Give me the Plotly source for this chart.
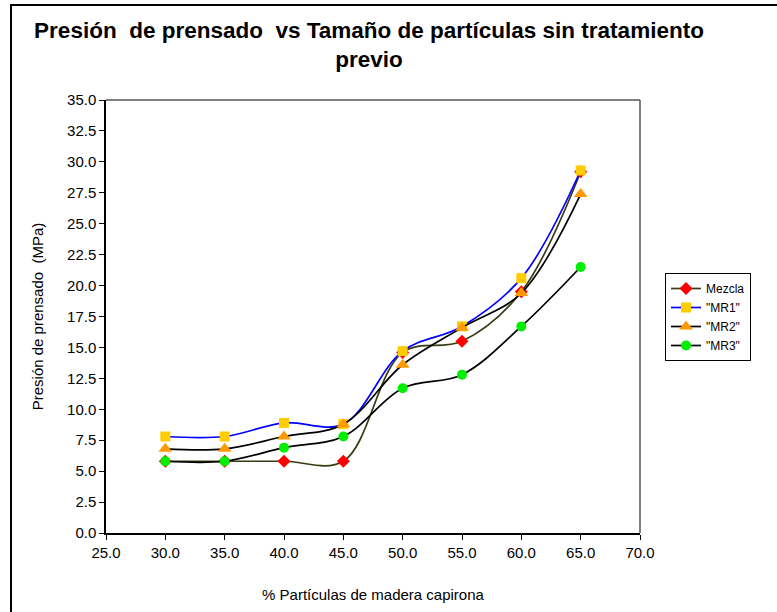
import plotly.graph_objects as go

# Percentage of capirona wood particles
particulas = [30, 35, 40, 45, 50, 55, 60, 65]

# Pressing pressure (MPa) for each mixture
mezcla = [5.8, 5.8, 5.8, 5.8, 14.6, 15.5, 19.5, 29.2]
mr1 = [7.8, 7.8, 8.9, 8.8, 14.7, 16.7, 20.6, 29.3]
mr2 = [6.8, 6.8, 7.8, 8.8, 13.6, 16.6, 19.4, 27.4]
mr3 = [5.8, 5.8, 6.9, 7.8, 11.7, 12.8, 16.7, 21.5]

x_ticks = [25, 30, 35, 40, 45, 50, 55, 60, 65, 70]
y_ticks = [0, 2.5, 5, 7.5, 10, 12.5, 15, 17.5, 20, 22.5, 25, 27.5, 30, 32.5, 35]

FONT = "Liberation Sans, Arial, sans-serif"
NB = "\u00a0"

series = [
    ("Mezcla", mezcla, "#3a3a14", "diamond", "#ff0000", 10),
    ('"MR1"', mr1, "#0000ff", "square", "#ffcc00", 10),
    ('"MR2"', mr2, "#000000", "triangle-up", "#ff9900", 12),
    ('"MR3"', mr3, "#000000", "circle", "#00ee00", 10),
]

fig = go.Figure()
for name, vals, lc, sym, mc, ms in series:
    fig.add_trace(go.Scatter(
        x=particulas, y=vals, name=name, mode="lines+markers",
        line=dict(color=lc, width=1.7, shape="spline", smoothing=1.0),
        marker=dict(symbol=sym, color=mc, size=ms, line=dict(width=0)),
    ))

L, R, T, B = 106, 137, 100, 79
W, H = 777, 612
pw, ph = W - L - R, H - T - B

def px_x(p):
    return (p - L) / pw

def px_y(p):
    return (H - B - p) / ph

title_text = (f"Presión{NB} de prensado{NB} vs Tamaño de partículas sin tratamiento"
              "<br>previo")

fig.update_layout(
    width=W, height=H,
    margin=dict(l=L, r=R, t=T, b=B),
    paper_bgcolor="white", plot_bgcolor="white",
    font=dict(family=FONT, color="black"),
    title=dict(
        text=title_text,
        x=369 / W, xanchor="center", y=1 - 38 / H, yanchor="top",
        font=dict(family=FONT, size=22.5, color="black", weight="bold"),
    ),
    xaxis=dict(
        range=[25, 70], tickvals=x_ticks, ticktext=[f"{v:.1f}" for v in x_ticks],
        showgrid=False, zeroline=False, showline=True, linecolor="black", linewidth=1.5,
        ticks="outside", ticklen=5, tickcolor="black",
        tickfont=dict(size=15),
        title=dict(text="% Partículas de madera capirona", font=dict(size=15), standoff=30),
    ),
    yaxis=dict(
        range=[0, 35], tickvals=y_ticks, ticktext=[f"{v:.1f}" for v in y_ticks],
        showgrid=False, zeroline=False, showline=True, linecolor="black", linewidth=1.5,
        ticks="outside", ticklen=5, tickcolor="black",
        tickfont=dict(size=15),
        title=dict(text=f"Presión de prensado{NB} (MPa)", font=dict(size=15), standoff=20),
    ),
    legend=dict(
        x=px_x(665), y=px_y(273), xanchor="left", yanchor="top",
        bgcolor="white", bordercolor="black", borderwidth=1,
        font=dict(size=12, family=FONT), itemwidth=30,
        tracegroupgap=0,
    ),
    showlegend=True,
)

# plot-area frame: gray top and right edges
fig.add_shape(type="line", xref="paper", yref="paper", x0=0, x1=1, y0=1, y1=1,
              line=dict(color="#555555", width=1.5))
fig.add_shape(type="line", xref="paper", yref="paper", x0=1, x1=1, y0=0, y1=1,
              line=dict(color="#555555", width=1.5))

# outer chart frame
fig.add_shape(type="path", xref="paper", yref="paper",
              path=f"M {px_x(11)} {px_y(640)} L {px_x(11)} {px_y(5)} L {px_x(800)} {px_y(5)}",
              line=dict(color="black", width=2))

fig.write_html("out.html")
